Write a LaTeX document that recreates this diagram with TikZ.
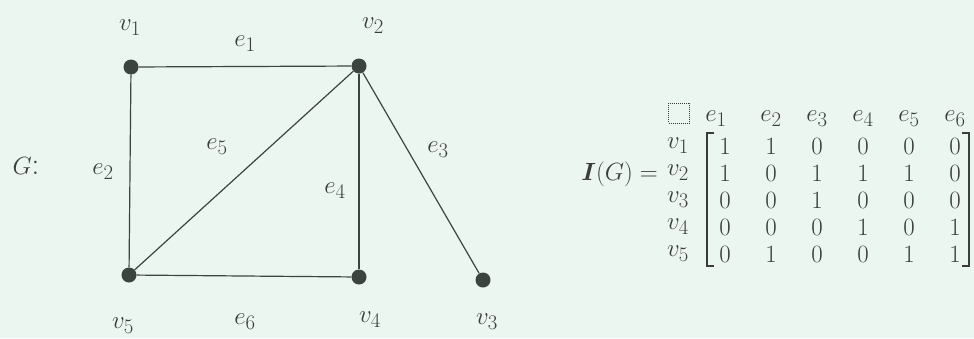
\documentclass[tikz,border=0pt]{standalone}
\usepackage{amsmath,bm}
\definecolor{ink}{HTML}{3A3D3B}
\definecolor{edgec}{HTML}{3C4440}
\definecolor{bgc}{HTML}{ECF6F0}
\begin{document}
\begin{tikzpicture}[x=1pt,y=-1pt,
  lbl/.style={text=ink, font=\fontsize{31}{34}\selectfont, inner sep=0pt},
  vtx/.style={circle, fill=edgec, minimum size=15pt, inner sep=0pt},
  edg/.style={draw=edgec, line width=1.2pt},
  brk/.style={draw=ink, line width=1.6pt},
  ph/.style={draw=ink, densely dotted, line width=1pt, minimum width=21pt, minimum height=20pt, inner sep=0pt}]
\fill[bgc] (0,0) rectangle (974,338);
\useasboundingbox (0,0) rectangle (974,338);
% graph vertices
\node[vtx] (v1) at (131,67) {};
\node[vtx] (v2) at (359,66) {};
\node[vtx] (v3) at (483,280) {};
\node[vtx] (v4) at (359,277) {};
\node[vtx] (v5) at (129,275) {};
% edges
\draw[edg] (v1) -- (v2);
\draw[edg] (v1) -- (v5);
\draw[edg] (v2) -- (v3);
\draw[edg] (v2) -- (v4);
\draw[edg] (v2) -- (v5);
\draw[edg] (v5) -- (v4);
% labels
\node[lbl] (G) at (26,166) {$G$:};
\node[lbl] (lv1) at (130,28) {$v_1$};
\node[lbl] (lv2) at (373,26) {$v_2$};
\node[lbl] (lv3) at (487,322) {$v_3$};
\node[lbl] (lv4) at (370,320) {$v_4$};
\node[lbl] (lv5) at (123,326) {$v_5$};
\node[lbl] (le1) at (245,44) {$e_1$};
\node[lbl] (le2) at (103,172) {$e_2$};
\node[lbl] (le3) at (438,150) {$e_3$};
\node[lbl] (le4) at (335,191) {$e_4$};
\node[lbl] (le5) at (217,147) {$e_5$};
\node[lbl] (le6) at (245,322) {$e_6$};
% incidence matrix
\node[lbl, anchor=east] (IG) at (658,174) {$\bm{I}(G) =$};
\node[ph] (box) at (679,113) {};
\node[lbl] (h1) at (716,119) {$e_1$};
\foreach \c in {2,...,6} {
  \node[lbl] (h\c) at (679+46*\c,119) {$e_{\c}$};
}
\foreach \r/\y/\vals in {1/146/{1,1,0,0,0,0},2/173/{1,0,1,1,1,0},3/200/{0,0,1,0,0,0},4/227/{0,0,0,1,0,1},5/254/{0,1,0,0,1,1}} {
  \node[lbl] (r\r) at (678,\y) {$v_{\r}$};
  \foreach \v [count=\c] in \vals {
    \node[lbl] (m\r\c) at (679+46*\c,\y) {$\v$};
  }
}
\draw[brk] (714,133) -- (707,133) -- (707,266) -- (714,266);
\draw[brk] (962,133) -- (969,133) -- (969,266) -- (962,266);
\end{tikzpicture}
\end{document}
